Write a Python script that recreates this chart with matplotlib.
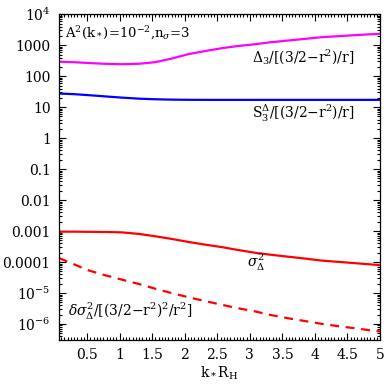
import matplotlib
matplotlib.use("Agg")
import matplotlib.pyplot as plt
from matplotlib.ticker import FixedLocator, FixedFormatter, MultipleLocator, LogLocator, NullFormatter

plt.rcParams['font.family'] = ['DejaVu Serif']
plt.rcParams['mathtext.fontset'] = 'dejavuserif'

k = [0.07, 0.3, 0.5, 0.75, 1.04, 1.3, 1.55, 1.8, 2.05, 2.3, 2.57, 2.8, 3.08, 3.3, 3.58, 3.85, 4.1, 4.35, 4.6, 4.8, 5.0]
delta3 = [295, 282, 268, 252, 243, 252, 283, 370, 510, 640, 800, 930, 1075, 1230, 1410, 1600, 1810, 1950, 2100, 2220, 2330]
s3 = [27.5, 26.3, 24.6, 22.5, 20.3, 18.8, 18.0, 17.5, 17.3, 17.2, 17.2, 17.2, 17.2, 17.2, 17.2, 17.2, 17.2, 17.2, 17.2, 17.2, 17.2]
sigma2 = [9.6e-4, 9.6e-4, 9.5e-4, 9.4e-4, 9.1e-4, 8.1e-4, 6.8e-4, 5.6e-4, 4.5e-4, 3.7e-4, 3.05e-4, 2.5e-4, 2.0e-4, 1.75e-4, 1.5e-4, 1.3e-4, 1.12e-4, 1.02e-4, 9.3e-5, 8.6e-5, 8.0e-5]
dsigma2 = [1.35e-4, 8.5e-5, 5.6e-5, 3.9e-5, 2.7e-5, 1.95e-5, 1.38e-5, 1.0e-5, 7.4e-6, 5.6e-6, 4.2e-6, 3.3e-6, 2.57e-6, 2.0e-6, 1.55e-6, 1.25e-6, 1.02e-6, 8.6e-7, 7.4e-7, 6.5e-7, 5.8e-7]

yticks = [1e4, 1e3, 1e2, 1e1, 1, 0.1, 0.01, 0.001, 1e-4, 1e-5, 1e-6]
ylabels = [r'$10^4$', '1000', '100', '10', '1', '0.1', '0.01', '0.001', '0.0001', r'$10^{-5}$', r'$10^{-6}$']
xticks = [0.5, 1, 1.5, 2, 2.5, 3, 3.5, 4, 4.5, 5]
xlabels = ['0.5', '1', '1.5', '2', '2.5', '3', '3.5', '4', '4.5', '5']

fig = plt.figure(figsize=(3.91, 3.84), dpi=100)
ax = fig.add_axes([0.151, 0.115, 0.821, 0.848])

ax.plot(k, delta3, color='#ff00ff', lw=1.6)
ax.plot(k, s3, color='#0000ff', lw=1.6)
ax.plot(k, sigma2, color='#ff0000', lw=1.6)
ax.plot(k, dsigma2, color='#ff0000', lw=1.6, ls=(0, (4, 3)))

ax.set_yscale('log')
ax.set_xlim(0.07, 5.0)
ax.set_ylim(3.1e-7, 1e4)

ax.yaxis.set_major_locator(FixedLocator(yticks))
ax.yaxis.set_major_formatter(FixedFormatter(ylabels))
ax.yaxis.set_minor_locator(LogLocator(base=10, subs=range(2, 10), numticks=30))
ax.yaxis.set_minor_formatter(NullFormatter())
ax.xaxis.set_major_locator(FixedLocator(xticks))
ax.xaxis.set_major_formatter(FixedFormatter(xlabels))
ax.xaxis.set_minor_locator(MultipleLocator(0.05))

ax.tick_params(which='both', direction='in', top=True, right=True, labelsize=10, width=0.8)
ax.tick_params(which='major', length=5, pad=6)
ax.tick_params(which='minor', length=2.5)
for s in ax.spines.values():
    s.set_linewidth(0.9)

ax.set_xlabel(r'k$_*$R$_\mathrm{H}$', fontsize=10, labelpad=2)

ax.text(0.16, 2500, r'A$^2$(k$_*$)=10$^{-2}$,n$_\sigma$=3', fontsize=9.5, va='center')
ax.text(4.61, 390, r'$\Delta_3$/[(3/2$-$r$^2$)/r]', fontsize=10, ha='right', va='center')
ax.text(4.61, 6.5, r'S$_3^\Delta$/[(3/2$-$r$^2$)/r]', fontsize=10, ha='right', va='center')
ax.text(3.1, 9.5e-5, r'$\sigma^2_\Delta$', fontsize=10, ha='center', va='center')
ax.text(0.21, 2.5e-6, r'$\delta\sigma^2_\Delta$/[(3/2$-$r$^2$)$^2$/r$^2$]', fontsize=10, va='center')

fig.savefig('out.png', dpi=100)
